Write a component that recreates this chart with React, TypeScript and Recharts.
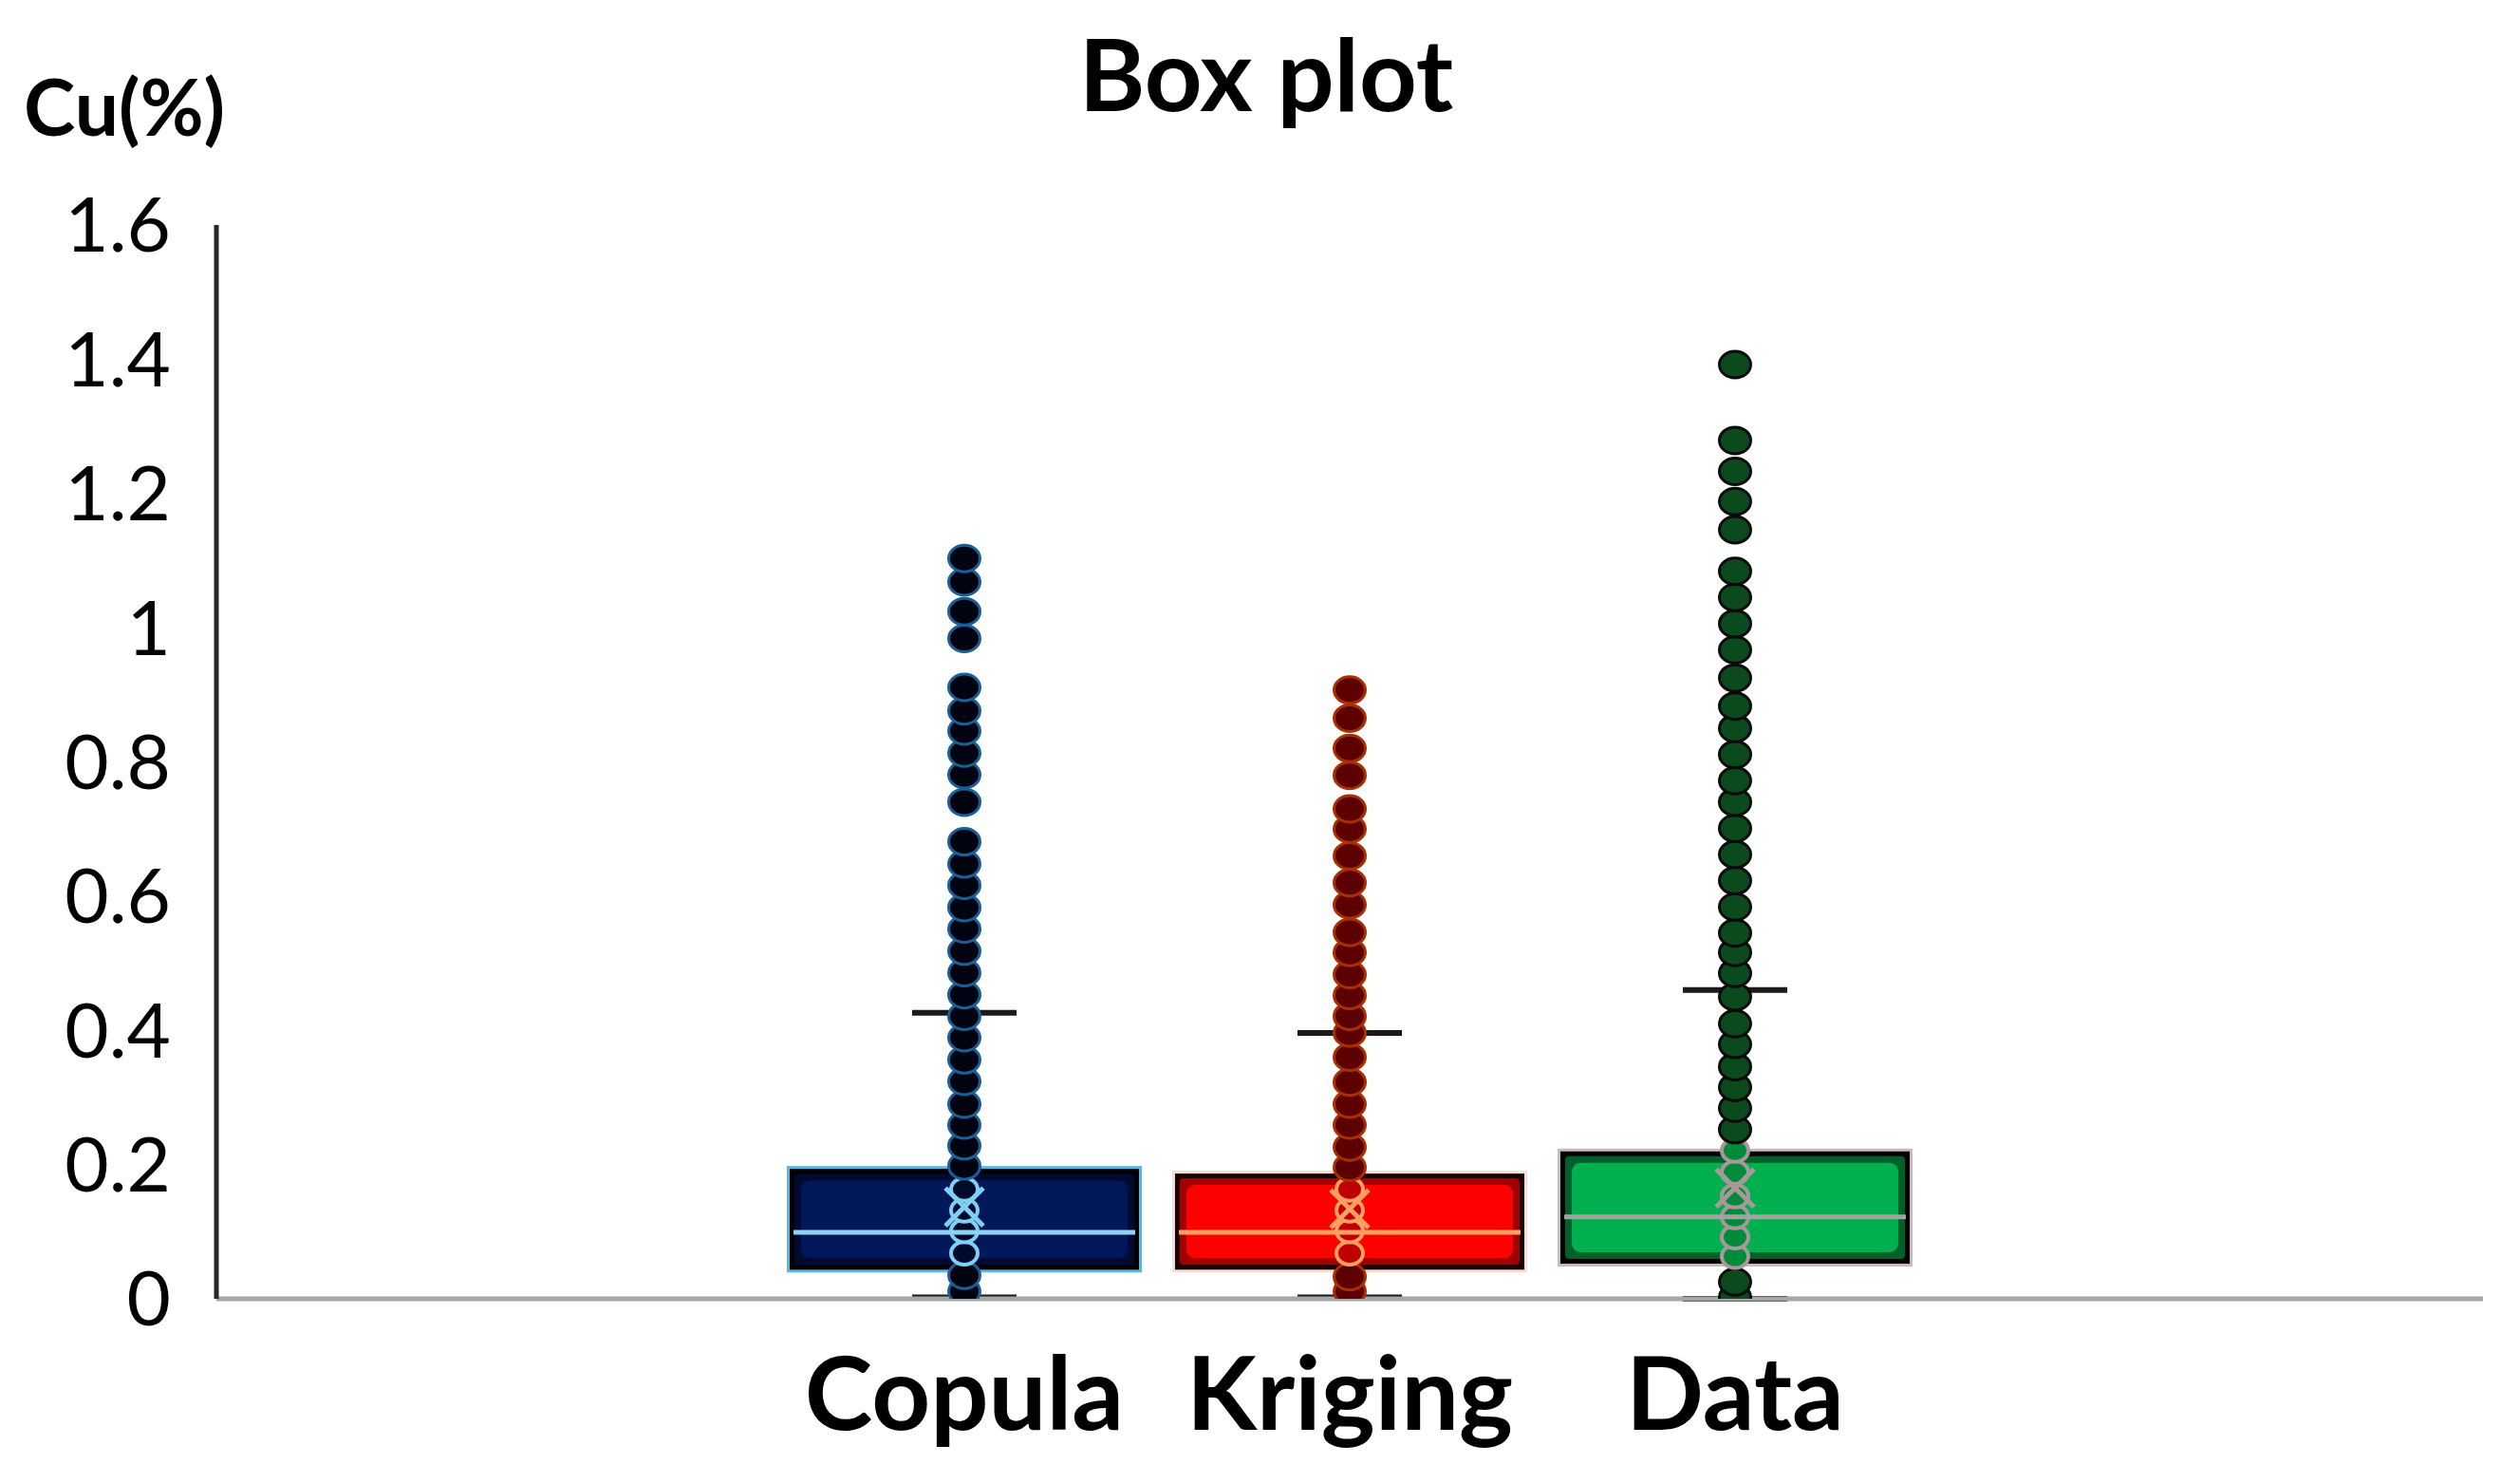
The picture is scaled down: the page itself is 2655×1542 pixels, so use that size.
import React from "react";
import { ComposedChart, Bar, Scatter, ErrorBar, XAxis, YAxis } from "recharts";

const categories = ["Copula", "Kriging", "Data"];
const q1 = [0.042, 0.042, 0.051];
const median = [0.099, 0.099, 0.122];
const q3 = [0.195, 0.188, 0.221];
const mean = [0.137, 0.134, 0.165];
const whiskerLow = [0.002, 0.002, 0];
const whiskerHigh = [0.426, 0.396, 0.46];
const yTicks = [0, 0.2, 0.4, 0.6, 0.8, 1, 1.2, 1.4, 1.6];

// every point, low to high
const copulaPoints = [
  0.011, 0.035, 0.068, 0.101, 0.132, 0.163, 0.198, 0.228, 0.259, 0.29, 0.324, 0.356, 0.389, 0.421, 0.453,
  0.486, 0.518, 0.551, 0.583, 0.616, 0.648, 0.681, 0.74, 0.781, 0.813, 0.846, 0.876, 0.911, 0.984, 1.024,
  1.068, 1.103,
];
const krigingPoints = [
  0.011, 0.033, 0.068, 0.101, 0.132, 0.163, 0.196, 0.226, 0.259, 0.29, 0.323, 0.36, 0.396, 0.421, 0.452,
  0.483, 0.516, 0.546, 0.587, 0.62, 0.66, 0.7, 0.73, 0.78, 0.82, 0.865, 0.907,
];
const dataPoints = [
  0.002, 0.025, 0.063, 0.092, 0.122, 0.153, 0.188, 0.221, 0.252, 0.284, 0.315, 0.346, 0.379, 0.41, 0.45,
  0.485, 0.516, 0.545, 0.584, 0.623, 0.662, 0.701, 0.74, 0.772, 0.811, 0.85, 0.883, 0.925, 0.967, 1.006,
  1.045, 1.084, 1.146, 1.188, 1.233, 1.279, 1.392,
];
const pointsByCategory = [copulaPoints, krigingPoints, dataPoints];

const palette = [
  { outer: "#5fb4e4", edge: "#000000", mid: "#000a30", fill: "#00185a", median: "#8fd3f2", ring: "#7fd0f5", ringFill: "#000a2a", dot: "#000410", dotStroke: "#1a5f96" },
  { outer: "#f2e0d8", edge: "#1a0000", mid: "#a00000", fill: "#ff0000", median: "#ffa060", ring: "#ffa060", ringFill: "#c00000", dot: "#5c0000", dotStroke: "#a83000" },
  { outer: "#c8b8c0", edge: "#000000", mid: "#00602a", fill: "#00b04f", median: "#a8a0a0", ring: "#a89898", ringFill: "#008a3c", dot: "#0a4a1c", dotStroke: "#0a0a0a" },
];

const font = "Lato, Carlito, Calibri, sans-serif";
const maxPoints = Math.max(...pointsByCategory.map((p) => p.length));
const pointKeys = Array.from({ length: maxPoints }, (_, j) => `p${j}`);

const rows = categories.map((name, i) => {
  const row: Record<string, any> = {
    name,
    idx: i,
    box: [q1[i], q3[i]],
    median: median[i],
    mean: mean[i],
    whisker: [median[i] - whiskerLow[i], whiskerHigh[i] - median[i]],
  };
  pointsByCategory[i].forEach((v, j) => {
    row[`p${j}`] = v;
  });
  return row;
});

const BoxShape = (props: any) => {
  const { x, y, width, height, payload } = props;
  const c = palette[payload.idx];
  return (
    <g>
      <rect x={x - 2} y={y - 2} width={width + 4} height={height + 4} fill={c.outer} />
      <rect x={x + 1} y={y + 1} width={width - 2} height={height - 2} fill={c.edge} />
      <rect x={x + 6} y={y + 6} width={width - 12} height={height - 12} fill={c.mid} rx={4} />
      <rect x={x + 13} y={y + 13} width={width - 26} height={height - 26} fill={c.fill} rx={9} />
    </g>
  );
};

const makeDot = (key: string) => (props: any) => {
  const { cx, cy, payload } = props;
  if (!payload || payload[key] == null || cx == null || cy == null || isNaN(cy)) return <g />;
  const i = payload.idx;
  const c = palette[i];
  const v = payload[key];
  if (v >= q1[i] && v <= q3[i]) {
    return <ellipse cx={cx} cy={cy} rx={14} ry={12} fill={c.ringFill} stroke={c.ring} strokeWidth={4} />;
  }
  return <ellipse cx={cx} cy={cy} rx={16.5} ry={14} fill={c.dot} stroke={c.dotStroke} strokeWidth={3} />;
};

const MedianShape = (props: any) => {
  const { cx, cy, payload } = props;
  if (cx == null || cy == null) return <g />;
  const c = palette[payload.idx];
  return <line x1={cx - 180} x2={cx + 180} y1={cy} y2={cy} stroke={c.median} strokeWidth={5} />;
};

const MeanShape = (props: any) => {
  const { cx, cy, payload } = props;
  if (cx == null || cy == null) return <g />;
  const c = palette[payload.idx];
  const s = 20;
  return (
    <g stroke={c.ring} strokeWidth={5}>
      <line x1={cx - s} y1={cy - s} x2={cx + s} y2={cy + s} />
      <line x1={cx - s} y1={cy + s} x2={cx + s} y2={cy - s} />
    </g>
  );
};

const Nothing = () => <g />;

export default function App() {
  return (
    <div style={{ position: "absolute", left: 0, top: 0, width: 2655, height: 1542, background: "#fff" }}>
      <ComposedChart width={2655} height={1542} data={rows} margin={{ top: 237, right: 39, bottom: 0, left: 0 }}>
        <XAxis
          dataKey="name"
          type="category"
          padding={{ left: 585, right: 585 }}
          height={174}
          interval={0}
          axisLine={{ stroke: "#a6a6a6", strokeWidth: 5 }}
          tickLine={false}
          tickSize={0}
          tickMargin={61}
          tick={{ fill: "#000", fontSize: 108, fontFamily: font, fontWeight: 700 }}
        />
        <YAxis
          type="number"
          domain={[0, 1.6]}
          ticks={yTicks}
          interval={0}
          allowDataOverflow
          width={228}
          axisLine={{ stroke: "#262626", strokeWidth: 5 }}
          tickLine={false}
          tickSize={8}
          tickMargin={40}
          tickFormatter={(v: number) => String(v)}
          tick={{ fill: "#000", fontSize: 80, fontFamily: font }}
        />
        <Bar dataKey="box" barSize={370} shape={<BoxShape />} isAnimationActive={false} />
        <Scatter dataKey="median" shape={<Nothing />} isAnimationActive={false}>
          <ErrorBar dataKey="whisker" direction="y" width={55} stroke="#1a1a1a" strokeWidth={6} />
        </Scatter>
        {pointKeys.map((k) => (
          <Scatter key={k} dataKey={k} shape={makeDot(k)} isAnimationActive={false} />
        ))}
        <Scatter dataKey="median" shape={<MedianShape />} isAnimationActive={false} />
        <Scatter dataKey="mean" shape={<MeanShape />} isAnimationActive={false} />
      </ComposedChart>
      <svg width={2655} height={1542} style={{ position: "absolute", left: 0, top: 0, pointerEvents: "none" }}>
        <text x={1334} y={117} textAnchor="middle" fontSize={106} fontWeight={700} fontFamily={font} fill="#000">
          Box plot
        </text>
        <text x={25} y={143} fontSize={82} fontWeight={700} fontFamily={font} fill="#000">
          Cu(%)
        </text>
      </svg>
    </div>
  );
}
